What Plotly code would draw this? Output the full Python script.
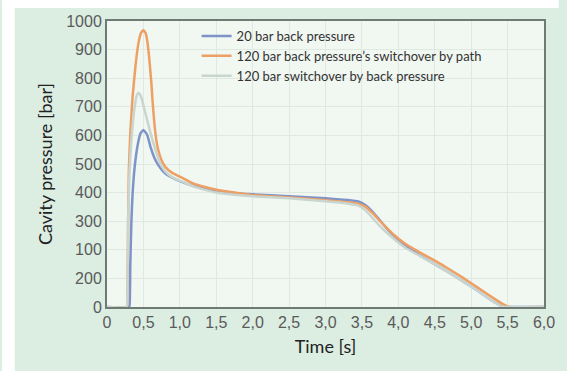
import plotly.graph_objects as go

# ---- data ----
names = ["20 bar back pressure",
         "120 bar back pressure\u2019s switchover by path",
         "120 bar switchover by back pressure"]

t_blue = [0, 0.30, 0.31, 0.32, 0.335, 0.35, 0.38, 0.42, 0.46, 0.50, 0.55, 0.60, 0.65,
          0.70, 0.78, 0.85, 1.0, 1.2, 1.5, 2.0, 2.5, 3.0, 3.3, 3.45, 3.55, 3.65, 3.75, 3.85,
          3.95, 4.1, 4.3, 4.5, 4.7, 4.9, 5.1, 5.3, 5.4, 5.45, 5.5, 6.0]
p_blue = [0, 0, 5, 150, 300, 390, 490, 565, 607, 619, 603, 557, 522,
          498, 472, 458, 440, 422, 405, 394, 387, 380, 374, 369, 356, 332, 302, 272,
          246, 212, 180, 150, 120, 88, 55, 20, 6, 1, 0, 0]

t_orange = [0, 0.27, 0.28, 0.29, 0.30, 0.32, 0.35, 0.39, 0.43, 0.47, 0.50, 0.53, 0.55,
            0.58, 0.61, 0.625, 0.665, 0.70, 0.75, 0.80, 0.9, 1.0, 1.2, 1.5, 2.0, 2.5, 3.0,
            3.3, 3.45, 3.55, 3.65, 3.75, 3.85, 3.95, 4.1, 4.3, 4.5, 4.7, 4.9, 5.1,
            5.3, 5.45, 5.52, 6.0]
p_orange = [0, 0, 30, 300, 480, 607, 730, 840, 920, 960, 968, 958, 935,
            870, 780, 722, 607, 552, 512, 490, 468, 456, 430, 410, 391, 383, 373,
            366, 361, 350, 327, 300, 274, 250, 220, 190, 162, 132, 100, 66,
            32, 8, 0, 0]

t_gray = [0, 0.27, 0.28, 0.29, 0.31, 0.34, 0.38, 0.41, 0.43, 0.45, 0.48, 0.51, 0.54,
          0.58, 0.62, 0.665, 0.72, 0.8, 0.9, 1.0, 1.2, 1.5, 2.0, 2.5, 3.0, 3.3, 3.45,
          3.55, 3.65, 3.75, 3.85, 3.95, 4.1, 4.3, 4.5, 4.7, 4.9, 5.1, 5.3, 5.42, 5.47, 6.0]
p_gray = [0, 0, 30, 300, 480, 600, 700, 740, 749, 745, 725, 695, 665,
          625, 588, 549, 508, 474, 453, 442, 420, 400, 387, 380, 370, 362, 355,
          338, 310, 282, 258, 236, 206, 178, 150, 120, 88, 55, 20, 3, 0, 0]

x_ticks = [0, 0.5, 1.0, 1.5, 2.0, 2.5, 3.0, 3.5, 4.0, 4.5, 5.0, 5.5, 6.0]
x_ticktext = ["0", "0,5", "1,0", "1,5", "2,0", "2,5", "3,0", "3,5", "4,0", "4,5",
              "5,0", "5,5", "6,0"]
y_ticks = [0, 100, 200, 300, 400, 500, 600, 700, 800, 900, 1000]
y_ticktext = ["0", "200", "100", "300", "400", "500", "600", "700", "800", "900", "1000"]

colors = ["#7e94c8", "#eea064", "#c9d5cf"]

fig = go.Figure()
for t, p, n, c in [(t_blue, p_blue, names[0], colors[0]),
                   (t_orange, p_orange, names[1], colors[1]),
                   (t_gray, p_gray, names[2], colors[2])]:
    fig.add_trace(go.Scatter(x=t, y=p, name=n, mode="lines",
                             line=dict(color=c, width=2.5, shape="spline", smoothing=0.4)))

green = "#dcede2"
tick_font = dict(family="Liberation Sans, Arial", size=16, color="#5a5a5a")
title_font = dict(family="Lato, Open Sans", size=18, color="#222222")
fig.update_layout(
    width=567, height=371,
    margin=dict(l=107, r=15, t=21, b=64),
    paper_bgcolor=green,
    plot_bgcolor="#f1f7f1",
    font=dict(family="Liberation Sans, Arial", color="#555555"),
    showlegend=True,
    legend=dict(x=0.205, y=1.0, xanchor="left", yanchor="top",
                bgcolor="rgba(0,0,0,0)", tracegroupgap=0,
                font=dict(family="Lato, Open Sans", size=13, color="#333333"),
                itemwidth=30),
    shapes=[
        dict(type="rect", xref="paper", yref="paper", x0=-0.2404, x1=-0.2112,
             y0=-0.2238, y1=1.0734, fillcolor="white", line=dict(width=0), layer="above"),
        dict(type="rect", xref="paper", yref="paper", x0=-0.2404, x1=1.0337,
             y0=1.0455, y1=1.0734, fillcolor="white", line=dict(width=0), layer="above"),
    ],
)
fig.update_xaxes(range=[0, 6.0], tickvals=x_ticks, ticktext=x_ticktext,
                 showgrid=True, gridcolor="#dfe9e2", gridwidth=1,
                 showline=True, linecolor="#6f7a74", linewidth=2, mirror=True,
                 zeroline=False, ticks="", tickfont=tick_font,
                 title=dict(text="Time [s]", standoff=10, font=title_font))
fig.update_yaxes(range=[0, 1000], tickvals=y_ticks, ticktext=y_ticktext,
                 showgrid=True, gridcolor="#dfe9e2", gridwidth=1,
                 showline=True, linecolor="#6f7a74", linewidth=2, mirror=True,
                 zeroline=False, ticks="", tickfont=tick_font,
                 title=dict(text="Cavity pressure [bar]", standoff=9, font=title_font))

fig.write_html("out.html")
